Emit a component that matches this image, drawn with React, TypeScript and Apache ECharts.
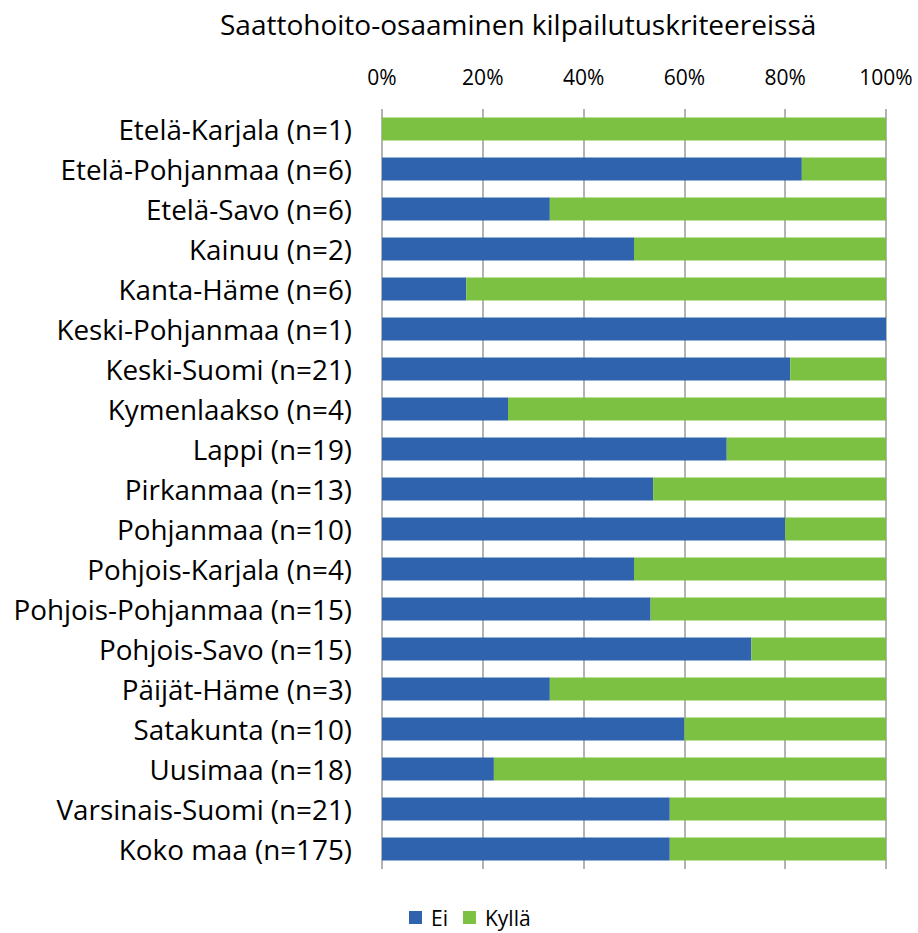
import React, { useEffect, useRef } from "react";
import * as echarts from "echarts";

const titleText = "Saattohoito-osaaminen kilpailutuskriteereissä";
const categories = [
  "Etelä-Karjala (n=1)",
  "Etelä-Pohjanmaa (n=6)",
  "Etelä-Savo (n=6)",
  "Kainuu (n=2)",
  "Kanta-Häme (n=6)",
  "Keski-Pohjanmaa (n=1)",
  "Keski-Suomi (n=21)",
  "Kymenlaakso (n=4)",
  "Lappi (n=19)",
  "Pirkanmaa (n=13)",
  "Pohjanmaa (n=10)",
  "Pohjois-Karjala (n=4)",
  "Pohjois-Pohjanmaa (n=15)",
  "Pohjois-Savo (n=15)",
  "Päijät-Häme (n=3)",
  "Satakunta (n=10)",
  "Uusimaa (n=18)",
  "Varsinais-Suomi (n=21)",
  "Koko maa (n=175)",
];
const eiValues = [0, 83.3, 33.3, 50, 16.7, 100, 81.0, 25, 68.4, 53.8, 80, 50, 53.3, 73.3, 33.3, 60, 22.2, 57.1, 57.1];
const kyllaValues = [100, 16.7, 66.7, 50, 83.3, 0, 19.0, 75, 31.6, 46.2, 20, 50, 46.7, 26.7, 66.7, 40, 77.8, 42.9, 42.9];
const seriesNames = ["Ei", "Kyllä"];
const xTicks = [0, 20, 40, 60, 80, 100];

const FONT = "'Open Sans', 'Noto Sans', sans-serif";

export default function App() {
  const ref = useRef<HTMLDivElement>(null);
  useEffect(() => {
    if (!ref.current) return;
    const chart = echarts.init(ref.current, undefined, { renderer: "svg" });
    chart.setOption({
      animation: false,
      backgroundColor: "#ffffff",
      title: {
        text: titleText,
        left: 220,
        top: 10,
        padding: 0,
        textStyle: { fontFamily: FONT, fontSize: 28, fontWeight: "normal", color: "#000" },
      },
      legend: {
        data: seriesNames,
        left: 409,
        top: 907,
        padding: 0,
        itemWidth: 13,
        itemHeight: 13,
        itemGap: 15,
        icon: "rect",
        textStyle: {
          fontFamily: FONT,
          fontSize: 21,
          lineHeight: 21,
          color: "#000",
          padding: [0, 0, 0, 4],
        },
      },
      grid: { left: 382, top: 109, width: 504, height: 760, containLabel: false },
      xAxis: {
        type: "value",
        position: "top",
        min: 0,
        max: 100,
        interval: 20,
        axisLabel: {
          formatter: (v: number) => (xTicks.includes(v) ? v + "%" : ""),
          fontFamily: FONT,
          fontSize: 21,
          color: "#000",
          margin: 22,
        },
        axisLine: { show: false },
        axisTick: { show: false },
        splitLine: { show: true, lineStyle: { color: "#9a9a9a", width: 1.5 } },
      },
      yAxis: {
        type: "category",
        inverse: true,
        data: categories,
        axisLabel: { fontFamily: FONT, fontSize: 27.8, color: "#000", margin: 30 },
        axisLine: { show: false },
        axisTick: { show: false },
      },
      series: [
        {
          name: seriesNames[0],
          type: "bar",
          stack: "total",
          data: eiValues,
          barWidth: 23,
          itemStyle: { color: "#2F63AD" },
        },
        {
          name: seriesNames[1],
          type: "bar",
          stack: "total",
          data: kyllaValues,
          barWidth: 23,
          itemStyle: { color: "#7DC142" },
        },
      ],
    });
    return () => chart.dispose();
  }, []);
  return (
    <div
      ref={ref}
      style={{ position: "fixed", left: 0, top: 0, width: 918, height: 933 }}
    />
  );
}
